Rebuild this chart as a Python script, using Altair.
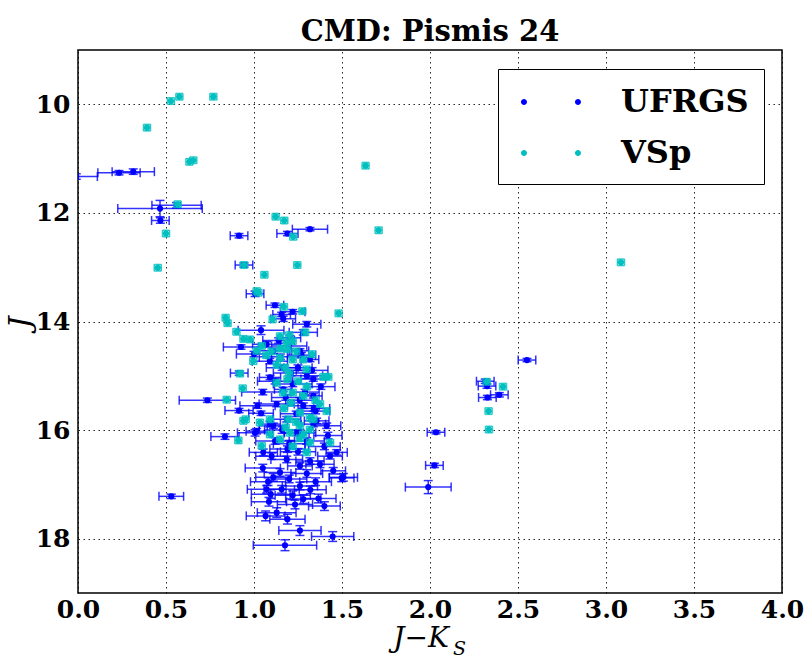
import altair as alt
import pandas as pd

# ---------------- data ----------------
u_x = [-0.01, 0.233, 0.314, 0.466, 0.56, 0.468, 0.915, 1.19, 1.318, 0.943,
       1.006, 1.119, 1.157, 1.166, 1.04, 2.551, 2.314, 2.324, 2.326, 2.394,
       2.034, 2.025, 1.99, 0.53, 0.735, 0.915, 1.04, 0.835, 0.926, 0.916,
       1.072, 1.11, 1.205, 1.261, 1.318, 1.091, 1.337, 1.166, 1.337, 1.129,
       1.186, 1.356, 1.413, 1.006, 1.11, 1.261, 1.015, 1.243, 1.09, 1.337,
       1.053, 1.10, 1.186, 1.318, 1.375, 1.261, 1.432, 1.47, 1.45, 1.148,
       1.11, 1.508, 1.072, 1.157, 1.261, 1.095, 1.085, 1.233, 1.28, 1.366,
       1.129, 1.066, 1.19, 1.261, 1.447, 1.176, 1.498, 1.20, 1.15, 1.25,
       1.30, 1.22, 1.18, 1.28, 1.35, 1.05, 1.00, 1.14, 1.30, 1.20,
       1.40, 1.12, 1.25, 1.35, 1.20, 1.30, 1.05, 1.38, 1.28, 1.12,
       1.24, 1.16, 1.42, 1.02, 1.32, 1.22, 1.40, 1.08, 1.29, 1.16,
       1.22, 1.30, 1.09, 1.27, 1.33, 1.21, 1.26, 1.34, 1.19]
u_j = [11.33, 11.26, 11.24, 11.92, 11.86, 12.14, 12.42, 12.38, 12.30, 12.96,
       13.49, 13.70, 13.87, 13.95, 14.16, 14.71, 15.10, 15.19, 15.40, 15.35,
       16.04, 16.65, 17.05, 17.22, 15.45, 15.64, 15.69, 16.12, 14.47, 14.95,
       14.42, 14.54, 14.30, 14.54, 14.70, 15.03, 15.06, 15.25, 15.37, 15.52,
       15.80, 15.83, 15.92, 16.05, 15.92, 16.05, 16.02, 16.05, 15.89, 15.89,
       16.41, 16.48, 16.54, 16.57, 16.63, 16.66, 16.48, 16.41, 16.75, 16.78,
       16.87, 16.87, 17.09, 17.09, 17.03, 17.18, 17.32, 17.37, 17.27, 17.26,
       17.52, 17.58, 17.64, 17.85, 17.96, 18.12, 16.88, 14.45, 14.65, 14.85,
       15.00, 15.15, 15.40, 15.55, 15.65, 15.30, 14.60, 14.35, 16.20, 16.25,
       16.30, 16.20, 16.40, 16.95, 16.90, 16.80, 16.70, 15.20, 14.20, 15.10,
       15.70, 16.00, 16.10, 15.55, 17.10, 17.20, 17.40, 16.95, 15.30, 14.85,
       13.82, 14.05, 14.73, 14.62, 14.90, 14.95, 15.45, 15.60, 16.35]
u_xerr = [0.12, 0.12, 0.12, 0.24, 0.14, 0.05, 0.05, 0.06, 0.10, 0.05,
          0.05, 0.05, 0.05, 0.07, 0.13, 0.05, 0.05, 0.05, 0.05, 0.05,
          0.05, 0.05, 0.13, 0.07, 0.16, 0.08, 0.07, 0.08, 0.10, 0.05,
          0.08, 0.09, 0.06, 0.05, 0.05, 0.06, 0.07, 0.05, 0.05, 0.10,
          0.08, 0.07, 0.08, 0.10, 0.08, 0.09, 0.06, 0.07, 0.06, 0.07,
          0.08, 0.09, 0.09, 0.08, 0.08, 0.07, 0.07, 0.06, 0.07, 0.09,
          0.10, 0.08, 0.11, 0.10, 0.10, 0.11, 0.10, 0.10, 0.10, 0.10,
          0.11, 0.11, 0.10, 0.12, 0.12, 0.18, 0.07, 0.10, 0.12, 0.08,
          0.09, 0.11, 0.08, 0.09, 0.08, 0.12, 0.10, 0.09, 0.10, 0.09,
          0.09, 0.11, 0.10, 0.09, 0.10, 0.09, 0.10, 0.08, 0.08, 0.10,
          0.09, 0.10, 0.08, 0.10, 0.09, 0.10, 0.09, 0.10, 0.08, 0.09,
          0.07, 0.08, 0.10, 0.08, 0.09, 0.10, 0.08, 0.09, 0.10]
u_jerr = [0.05, 0.04, 0.05, 0.15, 0.05, 0.05, 0.04, 0.04, 0.03, 0.04,
          0.05, 0.04, 0.04, 0.05, 0.08, 0.03, 0.04, 0.04, 0.04, 0.04,
          0.03, 0.04, 0.12, 0.04, 0.04, 0.04, 0.04, 0.05, 0.04, 0.04,
          0.05, 0.05, 0.04, 0.04, 0.04, 0.04, 0.04, 0.04, 0.04, 0.05,
          0.05, 0.05, 0.05, 0.06, 0.05, 0.06, 0.05, 0.05, 0.05, 0.05,
          0.06, 0.06, 0.06, 0.06, 0.06, 0.06, 0.05, 0.05, 0.06, 0.07,
          0.07, 0.07, 0.07, 0.07, 0.07, 0.08, 0.08, 0.08, 0.08, 0.08,
          0.09, 0.09, 0.09, 0.09, 0.09, 0.10, 0.07, 0.05, 0.05, 0.05,
          0.05, 0.05, 0.05, 0.05, 0.05, 0.05, 0.05, 0.05, 0.06, 0.06,
          0.06, 0.06, 0.06, 0.07, 0.07, 0.07, 0.07, 0.05, 0.05, 0.05,
          0.05, 0.06, 0.06, 0.05, 0.07, 0.08, 0.08, 0.07, 0.05, 0.05,
          0.04, 0.05, 0.05, 0.05, 0.05, 0.05, 0.05, 0.05, 0.06]

v_x = [0.528, 0.576, 0.769, 0.392, 0.633, 0.655, 1.634, 0.566, 0.50, 0.453,
       1.123, 1.172, 1.223, 1.708, 1.246, 0.943, 1.059, 1.015, 1.025, 1.170,
       1.275, 1.481, 0.839, 0.85, 1.106, 0.90, 1.29, 3.085, 2.322, 2.415,
       2.333, 2.335, 0.94, 0.977, 1.044, 1.148, 1.186, 1.22, 0.996, 1.148,
       1.176, 1.299, 1.394, 1.422, 0.92, 0.936, 0.845, 1.19, 1.166, 1.129,
       1.22, 1.28, 1.21, 1.195, 1.261, 1.318, 0.953, 1.034, 1.091, 1.375,
       1.413, 1.337, 1.261, 1.318, 1.205, 0.911, 1.044, 1.148, 1.28, 1.318,
       1.432, 1.22, 1.299, 1.091, 0.94, 1.15, 1.24, 1.28, 1.20, 1.25,
       1.17, 1.24, 1.30, 1.35, 1.10, 1.20, 1.13, 1.33, 1.26, 1.18,
       1.015, 1.07, 1.19, 1.22]
v_j = [9.94, 9.86, 9.86, 10.43, 11.06, 11.03, 11.13, 11.84, 12.38, 13.01,
       12.07, 12.14, 12.44, 12.32, 12.96, 12.96, 13.14, 13.44, 13.47, 13.73,
       13.81, 13.85, 13.93, 14.03, 13.96, 14.19, 14.20, 12.91, 15.11, 15.20,
       15.65, 15.99, 14.32, 14.33, 14.45, 14.27, 14.39, 14.36, 14.73, 14.67,
       14.85, 14.88, 15.02, 15.02, 14.96, 15.23, 15.44, 15.06, 15.31, 15.13,
       15.31, 15.37, 15.50, 15.80, 15.68, 15.77, 15.80, 15.86, 15.80, 15.52,
       15.65, 15.80, 15.92, 15.99, 16.05, 16.19, 16.29, 16.17, 16.08, 16.23,
       16.23, 16.30, 16.41, 16.08, 15.83, 14.50, 14.55, 14.70, 14.95, 15.10,
       15.60, 15.85, 15.20, 15.45, 14.55, 14.25, 14.80, 14.60, 16.15, 15.95,
       14.54, 14.62, 14.51, 14.70]
v_xerr = [0.02, 0.02, 0.02, 0.02, 0.02, 0.02, 0.02, 0.02, 0.02, 0.02,
          0.02, 0.02, 0.02, 0.02, 0.02, 0.02, 0.02, 0.02, 0.02, 0.02,
          0.02, 0.02, 0.02, 0.02, 0.02, 0.02, 0.02, 0.02, 0.02, 0.02,
          0.02, 0.02, 0.02, 0.02, 0.02, 0.02, 0.02, 0.02, 0.02, 0.02,
          0.02, 0.02, 0.02, 0.02, 0.02, 0.02, 0.02, 0.02, 0.02, 0.02,
          0.02, 0.02, 0.02, 0.02, 0.02, 0.02, 0.02, 0.02, 0.02, 0.02,
          0.02, 0.02, 0.02, 0.02, 0.02, 0.02, 0.02, 0.02, 0.02, 0.02,
          0.02, 0.02, 0.02, 0.02, 0.02, 0.02, 0.02, 0.02, 0.02, 0.02,
          0.02, 0.02, 0.02, 0.02, 0.02, 0.02, 0.02, 0.02, 0.02, 0.02,
          0.02, 0.02, 0.02, 0.02]
v_jerr = [0.06, 0.06, 0.06, 0.06, 0.06, 0.06, 0.06, 0.06, 0.06, 0.06,
          0.06, 0.06, 0.06, 0.06, 0.06, 0.06, 0.06, 0.06, 0.06, 0.06,
          0.06, 0.06, 0.06, 0.06, 0.06, 0.06, 0.06, 0.06, 0.06, 0.06,
          0.06, 0.06, 0.06, 0.06, 0.06, 0.06, 0.06, 0.06, 0.06, 0.06,
          0.06, 0.06, 0.06, 0.06, 0.06, 0.06, 0.06, 0.06, 0.06, 0.06,
          0.06, 0.06, 0.06, 0.06, 0.06, 0.06, 0.06, 0.06, 0.06, 0.06,
          0.06, 0.06, 0.06, 0.06, 0.06, 0.06, 0.06, 0.06, 0.06, 0.06,
          0.06, 0.06, 0.06, 0.06, 0.06, 0.06, 0.06, 0.06, 0.06, 0.06,
          0.06, 0.06, 0.06, 0.06, 0.06, 0.06, 0.06, 0.06, 0.06, 0.06,
          0.06, 0.06, 0.06, 0.06]

series_names = ["UFRGS", "VSp"]
series_colors = ["#0000ff", "#00bfbf"]
x_ticks = [0.0, 0.5, 1.0, 1.5, 2.0, 2.5, 3.0, 3.5, 4.0]
y_ticks = [10, 12, 14, 16, 18]


def frame(name, xs, js, xe, je):
    df = pd.DataFrame({"x": xs, "j": js, "xerr": xe, "jerr": je})
    df["series"] = name
    df["xlo"] = df["x"] - df["xerr"]
    df["xhi"] = df["x"] + df["xerr"]
    df["jlo"] = df["j"] - df["jerr"]
    df["jhi"] = df["j"] + df["jerr"]
    return df


du = frame("UFRGS", u_x, u_j, u_xerr, u_jerr)
dv = frame("VSp", v_x, v_j, v_xerr, v_jerr)

W, H = 704, 543
SERIF = "DejaVu Serif"

xscale = alt.Scale(domain=[0, 4], nice=False, zero=False)
yscale = alt.Scale(domain=[9, 19], reverse=True, nice=False, zero=False)
color_scale = alt.Scale(domain=series_names, range=series_colors)

xaxis = alt.Axis(values=x_ticks, format=".1f", title=None, grid=True,
                 ticks=False, domain=False, labelPadding=4, labelFlush=False,
                 labelOverlap=False)
yaxis = alt.Axis(values=y_ticks, format="d", title="J", grid=True,
                 ticks=False, domain=False, labelPadding=8, labelFlush=False,
                 labelOverlap=False,
                 titleFont=SERIF, titleFontStyle="italic",
                 titleFontWeight="normal", titleFontSize=30,
                 titleX=-58, titleY=272, titleBaseline="middle",
                 titleAlign="center", titleAngle=270)

# two dots per legend entry (as in the matplotlib legend with numpoints=2)
two_dots = ("M -0.557 0 A 0.167 0.167 0 1 1 -0.223 0 A 0.167 0.167 0 1 1 -0.557 0 Z "
            "M 2.443 0 A 0.167 0.167 0 1 1 2.777 0 A 0.167 0.167 0 1 1 2.443 0 Z")

legend = alt.Legend(title=None, orient="none", legendX=420, legendY=19,
                    direction="vertical", symbolType=two_dots, symbolSize=1296,
                    symbolStrokeWidth=0, labelFont=SERIF, labelFontSize=32,
                    labelFontWeight="bold", labelColor="black", labelOffset=72,
                    padding=15, rowPadding=17, strokeColor="black",
                    fillColor="white", labelLimit=300)


def X(field):
    return alt.X(field, scale=xscale, axis=xaxis, title=None)


def Y(field):
    return alt.Y(field, scale=yscale, axis=yaxis, title="J")


def series_layers(df, col, capw):
    base = alt.Chart(df)
    common = dict(color=col, opacity=0.8, clip=True)
    hbar = base.mark_rule(strokeWidth=1.5, **common).encode(
        x=X("xlo:Q"), x2="xhi:Q", y=Y("j:Q"))
    vbar = base.mark_rule(strokeWidth=1.5, **common).encode(
        x=X("x:Q"), y=Y("jlo:Q"), y2="jhi:Q")
    capl = base.mark_tick(orient="vertical", thickness=1.5, size=capw, **common).encode(
        x=X("xlo:Q"), y=Y("j:Q"))
    capr = base.mark_tick(orient="vertical", thickness=1.5, size=capw, **common).encode(
        x=X("xhi:Q"), y=Y("j:Q"))
    capt = base.mark_tick(orient="horizontal", thickness=1.5, size=capw, **common).encode(
        x=X("x:Q"), y=Y("jlo:Q"))
    capb = base.mark_tick(orient="horizontal", thickness=1.5, size=capw, **common).encode(
        x=X("x:Q"), y=Y("jhi:Q"))
    pts = base.mark_point(filled=True, size=38, opacity=1, clip=True).encode(
        x=X("x:Q"), y=Y("j:Q"),
        color=alt.Color("series:N", scale=color_scale, legend=legend))
    return [hbar, vbar, capl, capr, capt, capb, pts]


layers = series_layers(du, series_colors[0], 9) + series_layers(dv, series_colors[1], 7)

lab_df = pd.DataFrame({"t": ["J\u2212K"]})
xlab = alt.Chart(lab_df).mark_text(font=SERIF, fontStyle="italic", fontSize=28,
                                   align="center", baseline="alphabetic",
                                   color="black").encode(
    x=alt.value(343), y=alt.value(597), text="t:N")
sub_df = pd.DataFrame({"t": ["S"]})
xsub = alt.Chart(sub_df).mark_text(font=SERIF, fontStyle="italic", fontSize=19,
                                   align="left", baseline="alphabetic",
                                   color="black").encode(
    x=alt.value(375), y=alt.value(605), text="t:N")

chart = alt.layer(*layers, xlab, xsub).properties(
    width=W, height=H,
    background="white",
    title=alt.Title("CMD: Pismis 24", font=SERIF, fontSize=29, fontWeight="bold",
                    color="black", anchor="middle", offset=3),
    autosize=alt.AutoSizeParams(type="none"),
    padding={"left": 78, "top": 50, "right": 24, "bottom": 67},
).configure_view(stroke="black", strokeWidth=1.5).configure_axis(
    labelFont=SERIF, labelFontSize=25, labelFontWeight="bold", labelColor="black",
    gridColor="black", gridDash=[1.5, 3.5], gridWidth=1, gridOpacity=0.85,
)

chart.save("out.html", embed_options={"renderer": "svg", "actions": False})
